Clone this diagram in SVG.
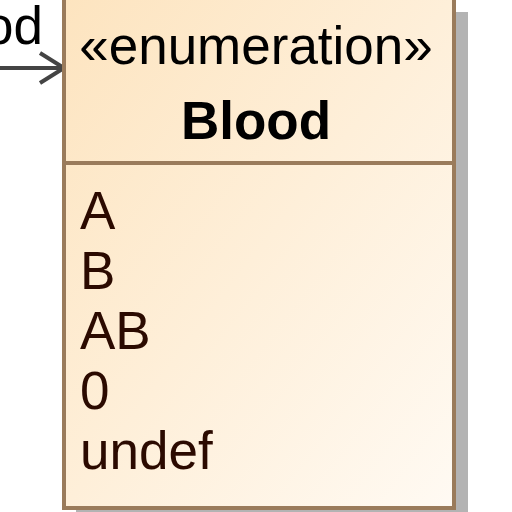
<svg xmlns="http://www.w3.org/2000/svg" width="512" height="512" viewBox="0 0 512 512">
<style>
.t{font-family:"Liberation Sans",Arial,sans-serif;font-size:53px}
.lit{fill:#2b0a00}
.con{stroke:#444;stroke-width:4;fill:none}
</style>
<defs>
<linearGradient id="g" x1="0" y1="0" x2="1" y2="1">
<stop offset="0" stop-color="#fde4bf"/>
<stop offset="1" stop-color="#fffaf3"/>
</linearGradient>
</defs>
<rect width="512" height="512" fill="#fff"/>
<g id="connectors">
<line class="con" x1="-2" y1="68" x2="63" y2="68"/>
<polyline class="con" points="40,53 64,68 40,83"/>
<text class="t" x="43" y="44" text-anchor="end" fill="#000">od</text>
</g>
<g id="Blood">
<rect x="76" y="12" width="392" height="510" fill="#b3b3b3"/>
<rect x="64" y="-4" width="390" height="512" fill="url(#g)" stroke="#9a7b5b" stroke-width="4"/>
<line x1="64" y1="163" x2="454" y2="163" stroke="#9a7b5b" stroke-width="4"/>
<text class="t" x="256" y="64" text-anchor="middle" fill="#000">«enumeration»</text>
<text class="t" x="256" y="139" text-anchor="middle" font-weight="bold" fill="#000">Blood</text>
<text class="t lit" x="80" y="229">A</text>
<text class="t lit" x="80" y="289">B</text>
<text class="t lit" x="80" y="349">AB</text>
<text class="t lit" x="80" y="409">0</text>
<text class="t lit" x="80" y="469">undef</text>
</g>
</svg>
